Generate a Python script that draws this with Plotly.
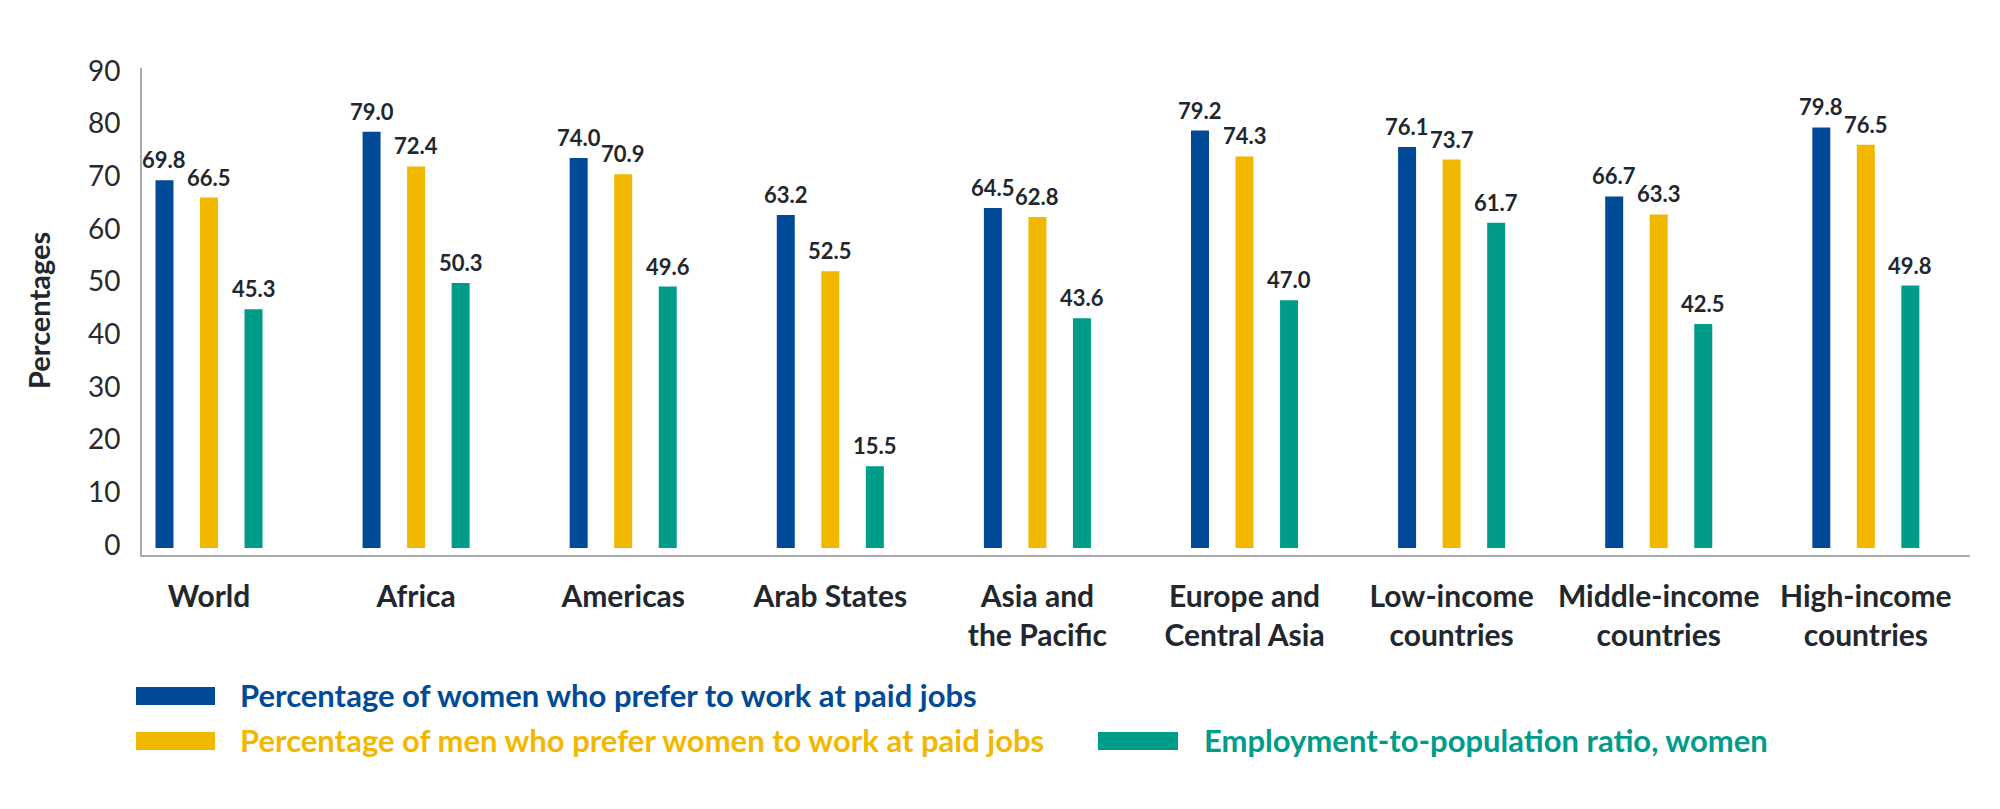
import plotly.graph_objects as go

# ---------------- data ----------------
categories = ["World", "Africa", "Americas", "Arab States", "Asia and<br>the Pacific",
              "Europe and<br>Central Asia", "Low-income<br>countries",
              "Middle-income<br>countries", "High-income<br>countries"]
women_prefer = [69.8, 79.0, 74.0, 63.2, 64.5, 79.2, 76.1, 66.7, 79.8]
men_prefer = [66.5, 72.4, 70.9, 52.5, 62.8, 74.3, 73.7, 63.3, 76.5]
emp_ratio = [45.3, 50.3, 49.6, 15.5, 43.6, 47.0, 61.7, 42.5, 49.8]
series_names = ["Percentage of women who prefer to work at paid jobs",
                "Percentage of men who prefer women to work at paid jobs",
                "Employment-to-population ratio, women"]
y_ticks = [0, 10, 20, 30, 40, 50, 60, 70, 80, 90]

# ---------------- style ----------------
colors = ["#004A97", "#F2B800", "#009C8A"]
FONT = "Lato"
DARK = "#22272e"
OFF = 8  # page body margin
W, H = 2000, 809
L, R, T, B = 142 - OFF, 38, 68 - OFF, 262
PW, PH = W - L - R, H - T - B
BARGAP = 0.355
GROUPGAP = 0.596
slot = (1 - BARGAP) / 3

series = [women_prefer, men_prefer, emp_ratio]

fig = go.Figure()
for k, (vals, name, col) in enumerate(zip(series, series_names, colors)):
    fig.add_trace(go.Bar(x=categories, y=vals, name=name, marker=dict(color=col, line=dict(width=0)),
                         showlegend=False))

annotations = []
# value labels
for k, vals in enumerate(series):
    for i, v in enumerate(vals):
        annotations.append(dict(x=i + (k - 1) * slot, y=v, xref="x", yref="y",
                                text=f"{v:.1f}", showarrow=False, yanchor="bottom",
                                xanchor="center", yshift=5,
                                font=dict(family=FONT, size=22, color=DARK, weight="bold")))

def px_x(p):
    return (p - OFF - L) / PW

def px_y(p):
    return (H - B - (p - OFF)) / PH

# y axis title
annotations.append(dict(x=px_x(38), y=px_y(311), xref="paper", yref="paper", text="Percentages",
                        textangle=-90, showarrow=False, xanchor="center", yanchor="middle",
                        font=dict(family=FONT, size=29, color=DARK, weight="bold")))

# custom legend
legend_items = [(136, 215, 687, 705, 238, 695),
                (136, 215, 732, 750, 238, 740),
                (1098, 1178, 732, 750, 1202, 740)]
shapes = []
for (x0, x1, y0, y1, tx, ty), name, col in zip(legend_items, series_names, colors):
    shapes.append(dict(type="rect", xref="paper", yref="paper", x0=px_x(x0), x1=px_x(x1),
                       y0=px_y(y1), y1=px_y(y0), fillcolor=col, line=dict(width=0)))
    annotations.append(dict(x=px_x(tx), y=px_y(ty), xref="paper", yref="paper", text=name,
                            showarrow=False, xanchor="left", yanchor="middle",
                            font=dict(family=FONT, size=31, color=col, weight="bold")))

fig.update_layout(
    width=W, height=H,
    margin=dict(l=L, r=R, t=T, b=B, pad=0),
    paper_bgcolor="white", plot_bgcolor="white",
    barmode="group", bargap=BARGAP, bargroupgap=GROUPGAP,
    font=dict(family=FONT, color=DARK),
    annotations=annotations, shapes=shapes,
    showlegend=False,
)
fig.update_xaxes(type="category", range=[-0.3235, 8.503], showline=True, linecolor="#a9aaae",
                 linewidth=2, showgrid=False, zeroline=False, ticks="",
                 tickfont=dict(family=FONT, size=30, color=DARK, weight="bold"),
                 ticklabelstandoff=14)
fig.update_yaxes(range=[-1.33, 91.08], tickvals=y_ticks, showline=True, linecolor="#a9aaae",
                 linewidth=2, showgrid=False, zeroline=False, ticks="",
                 tickfont=dict(family=FONT, size=28, color="#2a2a2a"),
                 ticklabelstandoff=14, ticklabelshift=-3)

fig.write_html("out.html")
